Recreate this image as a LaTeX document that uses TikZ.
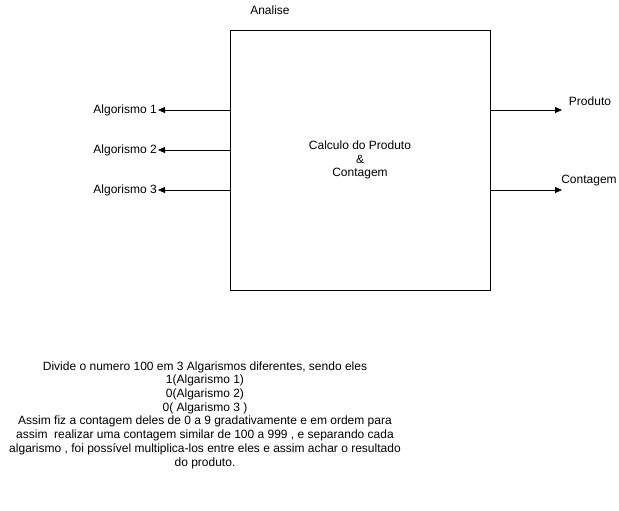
\documentclass[tikz,border=0pt]{standalone}
\usepackage{fontspec}
\setmainfont{Liberation Sans}
\usepackage{tikz}
\usetikzlibrary{arrows.meta}

\tikzset{
  lbl/.style={inner sep=1pt, font=\fontsize{12}{13.7}\selectfont},
  flow/.style={-{Triangle[length=7pt,width=6pt]}, line width=0.8pt}
}

\begin{document}
\begin{tikzpicture}[x=1pt,y=-1pt]
    \useasboundingbox (0,0) rectangle (619,511);
    \node[draw=black, line width=0.8pt, minimum width=260pt, minimum height=260pt, align=center, lbl] (box) at (360,160) {Calculo do Produto\\\&\\Contagem};
    \node[lbl] (title) at (270,10) {Analise};
    % saidas da esquerda
    \node[lbl, anchor=east] (A1) at (158,110) {Algorismo 1};
    \node[lbl, anchor=east] (A2) at (158,150) {Algorismo 2};
    \node[lbl, anchor=east] (A3) at (158,190) {Algorismo 3};
    \coordinate (L1) at (230,110);
    \coordinate (L2) at (230,150);
    \coordinate (L3) at (230,190);
    \path [flow] (L1) edge (A1.east);
    \path [flow] (L2) edge (A2.east);
    \path [flow] (L3) edge (A3.east);
    % saidas da direita
    \coordinate (R1) at (490,110);
    \coordinate (R2) at (490,190);
    \coordinate (P) at (562,110);
    \coordinate (C) at (562,190);
    \node[lbl] (prod) at (590,101) {Produto};
    \node[lbl] (cont) at (589,181) {Contagem};
    \path [flow] (R1) edge (P);
    \path [flow] (R2) edge (C);
    % texto de baixo
    \node[lbl, align=center] (note) at (205,415) {Divide o numero 100 em 3 Algarismos diferentes, sendo eles\\1(Algarismo 1)\\0(Algarismo 2)\\0( Algarismo 3 )\\Assim fiz a contagem deles de 0 a 9 gradativamente e em ordem para\\assim\ \ realizar uma contagem similar de 100 a 999 , e separando cada\\algarismo , foi possível multiplica-los entre eles e assim achar o resultado\\do produto.};
\end{tikzpicture}
\end{document}
